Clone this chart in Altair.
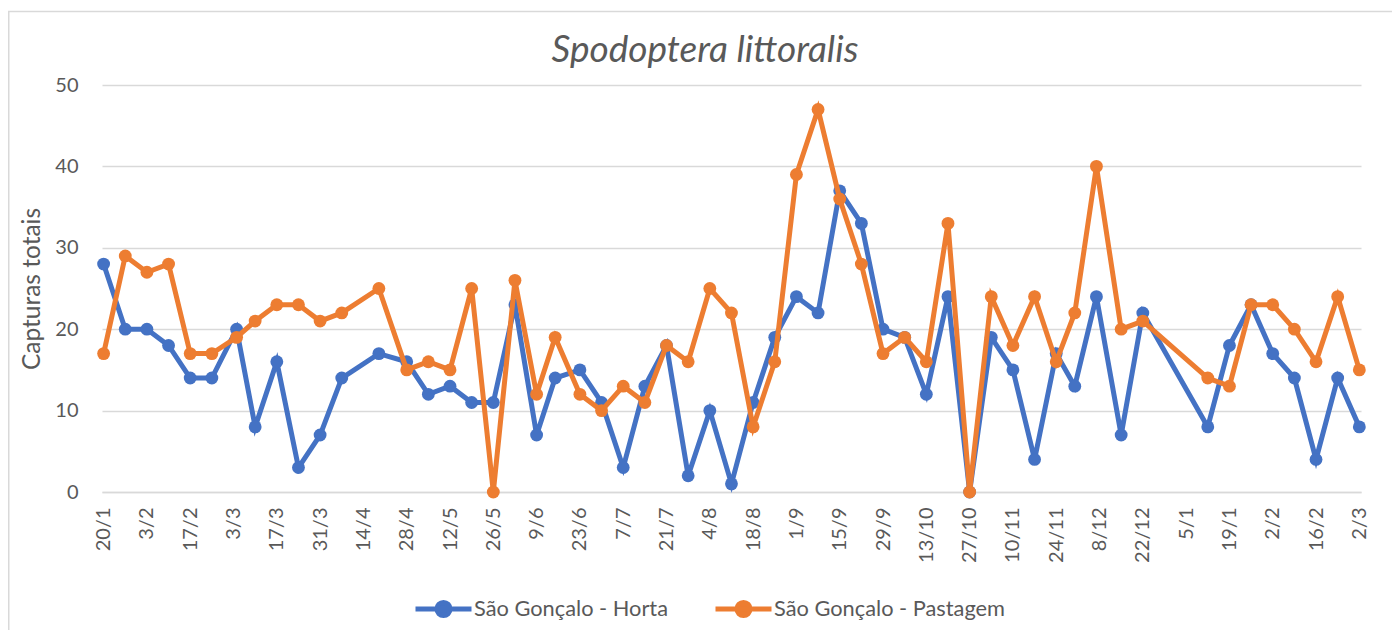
import altair as alt
import pandas as pd

# ---- data ----
dates = [
    "2018-01-20", "2018-01-27", "2018-02-03", "2018-02-10", "2018-02-17", "2018-02-24",
    "2018-03-04", "2018-03-10", "2018-03-17", "2018-03-24", "2018-03-31", "2018-04-07",
    "2018-04-19", "2018-04-28",
    "2018-05-05", "2018-05-12", "2018-05-19", "2018-05-26", "2018-06-02", "2018-06-09",
    "2018-06-15", "2018-06-23", "2018-06-30", "2018-07-07", "2018-07-14", "2018-07-21",
    "2018-07-28", "2018-08-04",
    "2018-08-11", "2018-08-18", "2018-08-25", "2018-09-01", "2018-09-08", "2018-09-15",
    "2018-09-22", "2018-09-29", "2018-10-06", "2018-10-13",
    "2018-10-20", "2018-10-27", "2018-11-03", "2018-11-10", "2018-11-17", "2018-11-24",
    "2018-11-30", "2018-12-07", "2018-12-15", "2018-12-22",
    "2019-01-12", "2019-01-19", "2019-01-26", "2019-02-02", "2019-02-09", "2019-02-16",
    "2019-02-23", "2019-03-02",
]
horta = [
    28, 20, 20, 18, 14, 14,
    20, 8, 16, 3, 7, 14,
    17, 16,
    12, 13, 11, 11, 23, 7,
    14, 15, 11, 3, 13, 18, 2, 10,
    1, 11, 19, 24, 22, 37, 33, 20, 19, 12,
    24, 0, 19, 15, 4, 17, 13, 24, 7, 22,
    8, 18, 23, 17, 14, 4, 14, 8,
]
pastagem = [
    17, 29, 27, 28, 17, 17,
    19, 21, 23, 23, 21, 22,
    25, 15,
    16, 15, 25, 0, 26, 12,
    19, 12, 10, 13, 11, 18, 16, 25,
    22, 8, 16, 39, 47, 36, 28, 17, 19, 16,
    33, 0, 24, 18, 24, 16, 22, 40, 20, 21,
    14, 13, 23, 23, 20, 16, 24, 15,
]
series_names = ["São Gonçalo - Horta", "São Gonçalo - Pastagem"]
series_colors = ["#4472C4", "#ED7D31"]
tick_dates = [
    "2018-01-20", "2018-02-03", "2018-02-17", "2018-03-03", "2018-03-17", "2018-03-31",
    "2018-04-14", "2018-04-28", "2018-05-12", "2018-05-26", "2018-06-09", "2018-06-23",
    "2018-07-07", "2018-07-21", "2018-08-04", "2018-08-18", "2018-09-01", "2018-09-15",
    "2018-09-29", "2018-10-13", "2018-10-27", "2018-11-10", "2018-11-24", "2018-12-08",
    "2018-12-22", "2019-01-05", "2019-01-19", "2019-02-02", "2019-02-16", "2019-03-02",
]
y_ticks = [0, 10, 20, 30, 40, 50]

TEXT = "#595959"
GRID = "#d9d9d9"
FONT = "Lato"
W, H = 1259, 407

rows = []
for name, vals in zip(series_names, [horta, pastagem]):
    for d, v in zip(dates, vals):
        rows.append({"date": d, "value": v, "series": name})
df = pd.DataFrame(rows)


def dt(s, h=0, m=0):
    y, mo, d = (int(p) for p in s.split("-"))
    return alt.DateTime(year=y, month=mo, date=d, hours=h, minutes=m, utc=True)


tick_vals = [dt(s) for s in tick_dates]
x_dom = [dt("2018-01-19", 11, 30), dt("2019-03-02", 13, 0)]

legend_symbol = ("M-1,0L1,0M-0.235,0A0.235,0.235,0,1,1,0.235,0"
                 "A0.235,0.235,0,1,1,-0.235,0Z")

x_enc = alt.X(
    "date:T",
    scale=alt.Scale(type="utc", domain=x_dom, nice=False),
    axis=alt.Axis(
        values=tick_vals,
        labelExpr="utcFormat(datum.value, '%-d/%-m')",
        labelAngle=270, labelAlign="right", labelBaseline="middle",
        labelPadding=15, ticks=False, grid=False,
        domainColor=GRID, domainWidth=1.3,
        labelFontSize=20, labelColor=TEXT, labelFont=FONT,
        labelOverlap=False, labelFlush=False, title=None,
    ),
)
y_enc = alt.Y(
    "value:Q",
    scale=alt.Scale(domain=[0, 50], nice=False),
    axis=alt.Axis(
        values=y_ticks, grid=True, gridColor=GRID, gridWidth=1.3,
        domain=False, ticks=False, labelPadding=24,
        labelFontSize=20, labelColor=TEXT, labelFont=FONT,
        title="Capturas totais", titleFontSize=24.5, titleFont=FONT,
        titleFontWeight="normal", titleColor=TEXT,
        titleX=-69.5, titleY=H / 2, titleAngle=270,
        titleAlign="center", titleBaseline="middle",
    ),
)
color_enc = alt.Color(
    "series:N",
    scale=alt.Scale(domain=series_names, range=series_colors),
    legend=alt.Legend(
        orient="none", legendX=311, legendY=493, direction="horizontal",
        title=None, symbolType=legend_symbol, symbolSize=3136,
        symbolStrokeWidth=5, symbolOpacity=1, labelFontSize=21.8, labelFont=FONT,
        labelColor=TEXT, labelOffset=0, labelLimit=500, columnPadding=36,
        padding=0,
    ),
)

base = alt.Chart(df).encode(x=x_enc, y=y_enc, color=color_enc)

layers = []
for name in series_names:
    sub = base.transform_filter(alt.datum.series == name)
    layers.append(sub.mark_line(strokeWidth=5))
    layers.append(sub.mark_point(filled=True, size=165, opacity=1))

frame_df = pd.DataFrame({"k": [0]})
top_frame = alt.Chart(frame_df).mark_rule(color=GRID, strokeWidth=1.6).encode(
    x=alt.value(-94), x2=alt.value(1300), y=alt.value(-73.5))
left_frame = alt.Chart(frame_df).mark_rule(color=GRID, strokeWidth=1.6).encode(
    x=alt.value(-93.3), y=alt.value(-73.5), y2=alt.value(560))

chart = alt.layer(top_frame, left_frame, *layers).properties(
    width=W,
    height=H,
    autosize=alt.AutoSizeParams(type="none"),
    padding={"left": 94, "top": 77, "right": 31, "bottom": 138},
    title=alt.TitleParams(
        "Spodoptera littoralis", fontSize=37, font=FONT, fontStyle="italic",
        fontWeight="normal", color=TEXT, anchor="middle", frame="group",
        dx=-26.5, offset=0, baseline="alphabetic", dy=88.3,
    ),
).configure_view(stroke=None)

chart.save("out.html", embed_options={"renderer": "svg", "actions": False})
